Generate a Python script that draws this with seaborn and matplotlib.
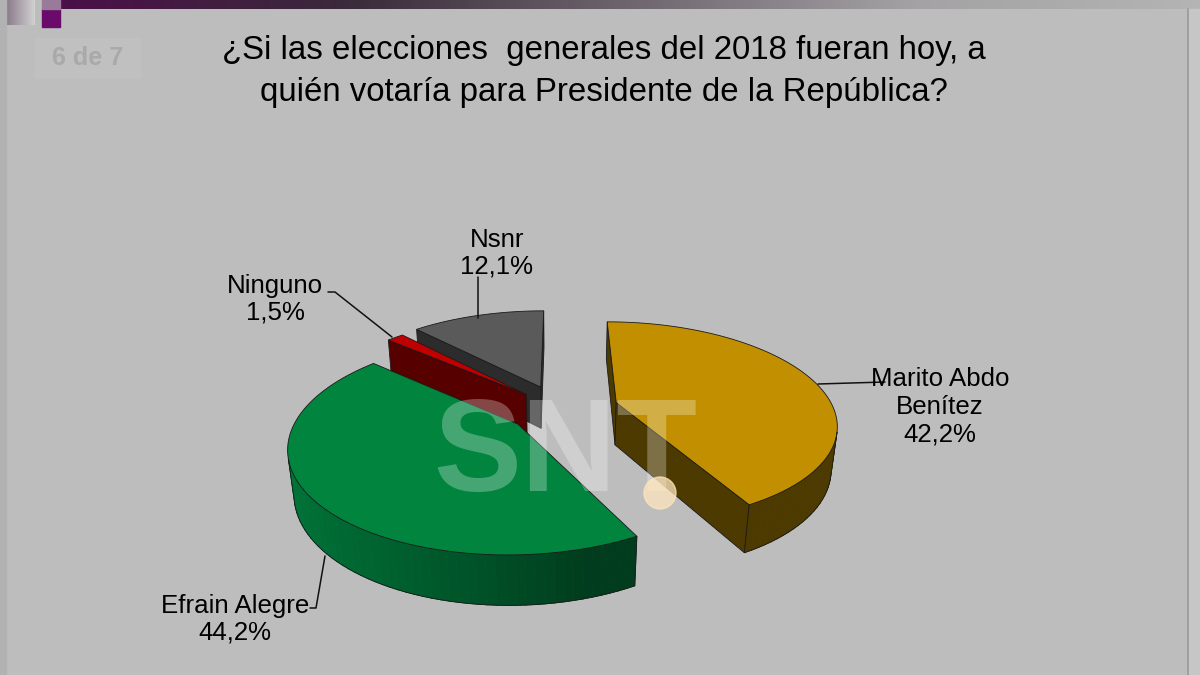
import numpy as np
import matplotlib
matplotlib.use("Agg")
import matplotlib.pyplot as plt
from matplotlib.patches import Polygon, Rectangle, Circle
import seaborn as sns

# Data
names = ["Marito Abdo\nBenítez", "Efrain Alegre", "Ninguno", "Nsnr"]
shares = [42.2, 44.2, 1.5, 12.1]
share_labels = ["42,2%", "44,2%", "1,5%", "12,1%"]
top_colors = ["#c28f00", "#00843e", "#c00000", "#5a5a5a"]
side_colors = ["#4d3a00", "#003c1d", "#560000", "#2c2c2c"]
explode = [0.27, 0.24, 0.22, 0.25]

title_lines = ["¿Si las elecciones  generales del 2018 fueran hoy, a",
               "quién votaría para Presidente de la República?"]

sns.set_theme(style="white")
plt.rcParams["font.family"] = ["Liberation Sans", "DejaVu Sans"]
plt.rcParams["text.color"] = "black"

bg = "#bdbdbd"

# 3D projection of the pie (unit radius)
cx, cy = 560, 409
tilt = np.radians(27)
cam_dist = 4.6
focal = 1000
depth_h = 0.225
cam = np.array([0, -cam_dist * np.cos(tilt), cam_dist * np.sin(tilt)])
light = np.array([-0.96, -0.29, 0.0])


def project(p):
    X, Y, Z = p
    d = cam_dist + Y * np.cos(tilt) - Z * np.sin(tilt)
    return (cx + focal * X / d, cy - focal * (Y * np.sin(tilt) + Z * np.cos(tilt)) / d)


def facing(normal, p):
    return np.dot(cam - np.asarray(p), normal) > 0


def shade(color, f):
    rgb = np.array(matplotlib.colors.to_rgb(color)) * f
    return tuple(np.clip(rgb, 0, 1))


fig = plt.figure(figsize=(12, 6.75), dpi=100, facecolor=bg)
ax = fig.add_axes([0, 0, 1, 1])
ax.set_xlim(0, 1200)
ax.set_ylim(675, 0)
ax.axis("off")
ax.set_facecolor(bg)

# Header band and frame
grad = np.linspace(0, 1, 300)[None, :]
band = matplotlib.colors.LinearSegmentedColormap.from_list(
    "band", ["#4a1048", "#3a2a3a", "#6e656e", "#a4a2a4", "#b4b4b4"])
ax.imshow(grad, cmap=band, extent=(60, 1200, 9, 0), aspect="auto", zorder=1)
sq = matplotlib.colors.LinearSegmentedColormap.from_list("sq", ["#8c7c8c", "#d2d2d2"])
ax.imshow(grad, cmap=sq, extent=(7, 35, 25, 0), aspect="auto", zorder=1)
ax.add_patch(Rectangle((42, 9), 18, 18, color="#6a0a6a", zorder=1))
ax.add_patch(Rectangle((42, 0), 18, 9, color="#9a7a9a", zorder=1))
ax.add_patch(Rectangle((0, 0), 6, 675, color="#b2b2b2", zorder=1))
ax.add_patch(Rectangle((1189, 9), 11, 666, color="#c6c6c6", zorder=1))
ax.plot([1188, 1188], [9, 675], color="#9a9a9a", lw=1.2, zorder=1)
ax.add_patch(Rectangle((35, 38), 105, 40, color="#c0c0c0", zorder=1))
ax.text(88, 58, "6 de 7", fontsize=18, color="#a9a9a9", fontweight="bold",
        ha="center", va="center", zorder=2)

ax.text(604, 50, title_lines[0], fontsize=23.8, ha="center", va="center", color="black")
ax.text(604, 92, title_lines[1], fontsize=23.8, ha="center", va="center", color="black")

# Build slices
bounds = 360 * np.cumsum([0] + shares) / sum(shares)
slices = []
for i in range(len(shares)):
    t0 = np.radians(90 - bounds[i])
    t1 = np.radians(90 - bounds[i + 1])
    mid = (t0 + t1) / 2
    slices.append((np.sin(mid), i, t0, t1, mid))
slices.sort(reverse=True)  # back slices first

for _, i, t0, t1, mid in slices:
    ox, oy = explode[i] * np.cos(mid), explode[i] * np.sin(mid)
    n = max(3, int(abs(t1 - t0) / np.radians(2)))
    th = np.linspace(t0, t1, n)
    px, py = ox + np.cos(th), oy + np.sin(th)

    # radial cut faces
    for t, nrm in [(t0, np.array([-np.sin(t0), np.cos(t0), 0])),
                   (t1, np.array([np.sin(t1), -np.cos(t1), 0]))]:
        a = (ox, oy)
        b = (ox + np.cos(t), oy + np.sin(t))
        quad = [(a[0], a[1], 0), (b[0], b[1], 0), (b[0], b[1], -depth_h), (a[0], a[1], -depth_h)]
        if facing(nrm, np.mean(quad, axis=0)):
            ax.add_patch(Polygon([project(q) for q in quad], closed=True,
                                 facecolor=side_colors[i], edgecolor="#1a1a1a", lw=0.6))

    # outer curved side
    bottom_pts = []
    for k in range(n - 1):
        tm = (th[k] + th[k + 1]) / 2
        nrm = np.array([np.cos(tm), np.sin(tm), 0])
        quad = [(px[k], py[k], 0), (px[k + 1], py[k + 1], 0),
                (px[k + 1], py[k + 1], -depth_h), (px[k], py[k], -depth_h)]
        if facing(nrm, np.mean(quad, axis=0)):
            f = 1 + 0.9 * max(0.0, float(np.dot(nrm, light)))
            col = shade(side_colors[i], f)
            ax.add_patch(Polygon([project(q) for q in quad], closed=True,
                                 facecolor=col, edgecolor=col, lw=0.6))
            bottom_pts.append((k, project(quad[3]), project(quad[2])))
    if bottom_pts:
        for k, p3, p2 in bottom_pts:
            ax.plot([p3[0], p2[0]], [p3[1], p2[1]], color="#1a1a1a", lw=0.6)
        for k in (bottom_pts[0][0], bottom_pts[-1][0] + 1):
            s = project((px[k], py[k], 0))
            e = project((px[k], py[k], -depth_h))
            ax.plot([s[0], e[0]], [s[1], e[1]], color="#1a1a1a", lw=0.6)

    # top face
    top = [project((ox, oy, 0))] + [project((x, y, 0)) for x, y in zip(px, py)]
    ax.add_patch(Polygon(top, closed=True, facecolor=top_colors[i],
                         edgecolor="#1a1a1a", lw=0.6))

# Watermark
ax.text(565, 456, "SNT", fontsize=95, fontweight="bold", color="white", alpha=0.28,
        ha="center", va="center", zorder=20)
ax.add_patch(Circle((660, 493), 16, color="#ffe6bd", alpha=0.75, zorder=21))

# Labels and leader lines
lab_fs = 18.6
ax.text(497, 253, names[3] + "\n" + share_labels[3], fontsize=lab_fs, ha="center",
        va="center", linespacing=1.15, color="black", zorder=25)
ax.text(275, 299, names[2] + "\n" + share_labels[2], fontsize=lab_fs, ha="center",
        va="center", linespacing=1.15, color="black", zorder=25)
ax.text(940, 407, names[0] + "\n" + share_labels[0], fontsize=lab_fs, ha="center",
        va="center", linespacing=1.2, color="black", zorder=25)
ax.text(235, 619, names[1] + "\n" + share_labels[1], fontsize=lab_fs, ha="center",
        va="center", linespacing=1.15, color="black", zorder=25)

lc = "#111111"
ax.plot([478, 478], [277, 318], color=lc, lw=1.1, zorder=24)
ax.plot([328, 335, 392], [292, 292, 337], color=lc, lw=1.1, zorder=24)
ax.plot([885, 818], [382, 384], color=lc, lw=1.1, zorder=24)
ax.plot([310, 316, 325], [608, 608, 556], color=lc, lw=1.1, zorder=24)

fig.savefig("out.png", dpi=100, facecolor=bg)
